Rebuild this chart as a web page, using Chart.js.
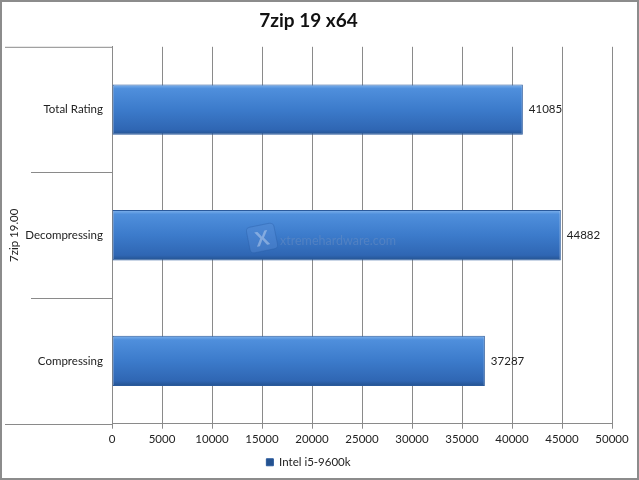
<!DOCTYPE html>
<html>
<head>
<meta charset="utf-8">
<script src="https://cdn.jsdelivr.net/npm/chart.js@4/dist/chart.umd.min.js"></script>
<style>
  html, body { margin: 0; padding: 0; background: #fff; }
  #wrap { width: 639px; height: 480px; }
</style>
</head>
<body>
<div id="wrap"><canvas id="chart" width="639" height="480"></canvas></div>
<script>
// dati
const categories = ['Total Rating', 'Decompressing', 'Compressing'];
const groupLabel = '7zip 19.00';
const seriesName = 'Intel i5-9600k';
const seriesValues = [41085, 44882, 37287];
const xTicks = [0, 5000, 10000, 15000, 20000, 25000, 30000, 35000, 40000, 45000, 50000];

const FONT = 'Lato, "Open Sans", sans-serif';
const GRID = '#8a8a8a';

// gradiente verticale per ogni barra
function barFill(context) {
    const chart = context.chart;
    if (!chart.chartArea || !chart.scales.y) return '#3d7ccc';
    const meta = chart.getDatasetMeta(0);
    const bar = meta.data[context.dataIndex];
    const y = chart.scales.y.getPixelForValue(context.dataIndex);
    const h = bar && bar.height ? bar.height / 2 : 25;
    const g = chart.ctx.createLinearGradient(0, y - h, 0, y + h);
    g.addColorStop(0, '#7fb2ec');
    g.addColorStop(0.08, '#4f8fdc');
    g.addColorStop(0.5, '#3c7bcb');
    g.addColorStop(0.9, '#2f66b3');
    g.addColorStop(1, '#24528f');
    return g;
}

// linee della zona categorie, etichette valori, filigrana, bordo
const decorPlugin = {
    id: 'decor',
    beforeDatasetsDraw(chart) {
        const ctx = chart.ctx;
        const area = chart.chartArea;
        const y = chart.scales.y;
        ctx.save();
        ctx.strokeStyle = GRID;
        ctx.lineWidth = 1;
        ctx.beginPath();
        // linea superiore della zona gruppo
        ctx.moveTo(5, area.top + 0.5);
        ctx.lineTo(area.left, area.top + 0.5);
        // separatori fra categorie
        for (let i = 0; i < categories.length - 1; i++) {
            const py = Math.round((y.getPixelForValue(i) + y.getPixelForValue(i + 1)) / 2) + 0.5;
            ctx.moveTo(31, py);
            ctx.lineTo(area.left, py);
        }
        // asse inferiore prolungato a sinistra
        ctx.moveTo(5, Math.round(area.bottom) + 0.5);
        ctx.lineTo(area.left, Math.round(area.bottom) + 0.5);
        ctx.stroke();
        ctx.restore();
    },
    afterDatasetsDraw(chart) {
        const ctx = chart.ctx;
        const meta = chart.getDatasetMeta(0);
        ctx.save();
        ctx.font = '11.5px ' + FONT;
        ctx.fillStyle = '#222';
        ctx.textBaseline = 'middle';
        ctx.textAlign = 'left';
        meta.data.forEach((bar, i) => {
            ctx.fillText(String(seriesValues[i]), bar.x + 6, bar.y);
        });

        // filigrana
        const cx = 262, cy = 238;
        ctx.globalAlpha = 0.4;
        ctx.translate(cx, cy);
        ctx.rotate(-0.2);
        ctx.fillStyle = '#5a8fd6';
        ctx.strokeStyle = '#2b5ea8';
        ctx.beginPath();
        ctx.roundRect(-14, -13, 28, 26, 4);
        ctx.fill();
        ctx.stroke();
        ctx.fillStyle = '#dfe9f7';
        ctx.font = 'bold 20px ' + FONT;
        ctx.textAlign = 'center';
        ctx.fillText('X', 0, 1);
        ctx.setTransform(1, 0, 0, 1, 0, 0);
        ctx.globalAlpha = 0.5;
        ctx.fillStyle = '#6b8fc4';
        ctx.font = '12.5px ' + FONT;
        ctx.textAlign = 'left';
        ctx.fillText('xtremehardware.com', 280, 241);
        ctx.restore();
    },
    afterDraw(chart) {
        const ctx = chart.ctx;
        ctx.save();
        ctx.strokeStyle = '#8c8c8c';
        ctx.lineWidth = 2;
        ctx.strokeRect(1, 1, chart.width - 2, chart.height - 2);
        ctx.restore();
    }
};

new Chart(document.getElementById('chart'), {
    type: 'bar',
    data: {
        labels: categories,
        datasets: [{
            label: seriesName,
            data: seriesValues,
            backgroundColor: barFill,
            borderColor: '#2a5a9c',
            borderWidth: 1,
            borderSkipped: false,
            categoryPercentage: 1,
            barPercentage: 0.4
        }]
    },
    options: {
        indexAxis: 'y',
        responsive: false,
        animation: false,
        devicePixelRatio: 1,
        layout: { padding: { left: 5, right: 27, top: 0, bottom: 2 } },
        plugins: {
            title: {
                display: true,
                text: '7zip 19 x64',
                color: '#111',
                font: { family: FONT, size: 19, weight: 'bold' },
                padding: { top: 9, bottom: 15 }
            },
            legend: {
                position: 'bottom',
                labels: {
                    color: '#222',
                    font: { family: FONT, size: 11.5 },
                    boxWidth: 7,
                    boxHeight: 7,
                    padding: 6
                }
            },
            tooltip: { enabled: false }
        },
        scales: {
            x: {
                min: 0,
                max: 50000,
                afterBuildTicks: axis => { axis.ticks = xTicks.map(v => ({ value: v })); },
                grid: { color: GRID, tickLength: 5, drawTicks: true },
                border: { color: GRID },
                ticks: {
                    color: '#222',
                    font: { family: FONT, size: 11.5 },
                    padding: 4,
                    maxRotation: 0,
                    autoSkip: false,
                    callback: v => String(v)
                }
            },
            y: {
                afterFit: axis => { axis.width = 107; },
                grid: { display: false, drawTicks: false },
                border: { color: GRID },
                ticks: {
                    color: '#222',
                    font: { family: FONT, size: 11.5 },
                    padding: 9
                },
                title: {
                    display: true,
                    text: groupLabel,
                    color: '#222',
                    font: { family: FONT, size: 11.5 },
                    padding: { top: 2, bottom: 0 }
                }
            }
        }
    },
    plugins: [decorPlugin]
});
</script>
</body>
</html>
